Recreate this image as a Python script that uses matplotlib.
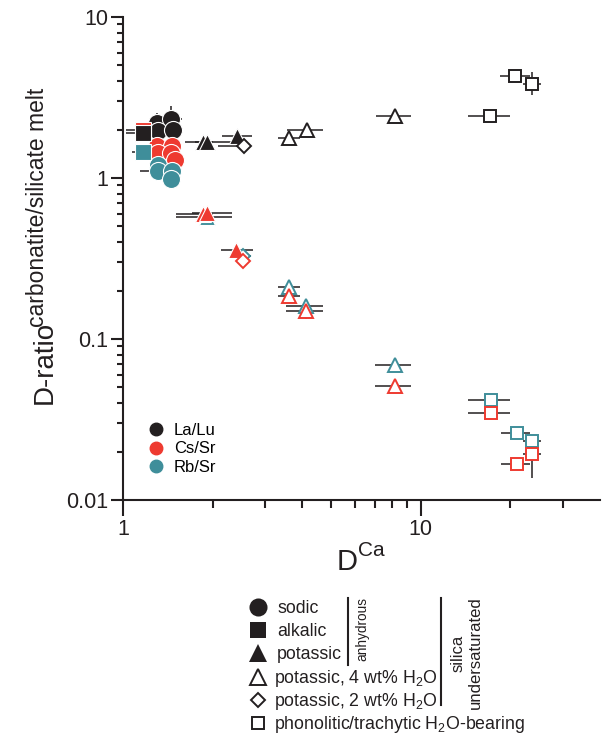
import matplotlib
matplotlib.use('Agg')
import matplotlib.pyplot as plt
from matplotlib.lines import Line2D
from matplotlib.ticker import FixedLocator, NullFormatter, FixedFormatter

# each row: D_Ca, D-ratio, D_Ca low, D_Ca high, D-ratio low, D-ratio high
sodic_lalu = [(1.30, 2.21, 1.30, 1.30, 2.21, 2.55),
              (1.45, 2.31, 1.30, 1.58, 2.31, 2.80),
              (1.31, 1.97, 1.31, 1.31, 1.97, 1.97),
              (1.47, 2.00, 1.33, 1.58, 2.00, 2.00)]
sodic_cssr = [(1.30, 1.59, 1.30, 1.30, 1.59, 1.59),
              (1.46, 1.59, 1.46, 1.46, 1.59, 1.59),
              (1.31, 1.42, 1.31, 1.31, 1.42, 1.42),
              (1.45, 1.42, 1.45, 1.45, 1.42, 1.42),
              (1.49, 1.30, 1.49, 1.58, 1.30, 1.30)]
sodic_rbsr = [(1.31, 1.21, 1.31, 1.31, 1.21, 1.21),
              (1.31, 1.11, 1.14, 1.31, 1.11, 1.11),
              (1.46, 1.11, 1.46, 1.58, 1.11, 1.11),
              (1.45, 0.99, 1.45, 1.45, 0.88, 0.99)]

alkalic_lalu = [(1.17, 1.89, 1.02, 1.17, 1.89, 1.89)]
alkalic_cssr = [(1.17, 1.98, 1.02, 1.17, 1.98, 1.98)]
alkalic_rbsr = [(1.17, 1.45, 1.07, 1.17, 1.45, 1.45)]

potassic_lalu = [(1.86, 1.68, 1.61, 2.00, 1.68, 1.68),
                 (1.91, 1.68, 1.75, 2.32, 1.68, 1.68),
                 (2.41, 1.83, 2.15, 2.71, 1.83, 1.83)]
potassic_cssr = [(1.86, 0.60, 1.51, 2.00, 0.60, 0.60),
                 (1.91, 0.61, 1.70, 2.32, 0.61, 0.61),
                 (2.40, 0.355, 2.13, 2.73, 0.355, 0.355)]
potassic_rbsr = [(1.91, 0.57, 1.51, 2.32, 0.57, 0.57)]

wet4_lalu = [(3.61, 1.76, 3.31, 3.93, 1.76, 1.76),
             (4.14, 2.00, 3.55, 4.69, 2.00, 2.00),
             (8.18, 2.44, 7.07, 9.27, 2.44, 2.44)]
wet4_cssr = [(3.61, 0.184, 3.31, 3.93, 0.184, 0.184),
             (4.11, 0.149, 3.52, 4.69, 0.134, 0.149),
             (8.18, 0.051, 7.00, 9.27, 0.051, 0.051)]
wet4_rbsr = [(3.61, 0.210, 3.31, 3.93, 0.210, 0.210),
             (4.11, 0.160, 3.52, 4.69, 0.160, 0.160),
             (8.18, 0.0688, 7.00, 9.27, 0.0688, 0.0688)]

wet2_lalu = [(2.55, 1.59, 2.08, 2.55, 1.59, 1.59)]
wet2_cssr = [(2.53, 0.303, 2.53, 2.53, 0.303, 0.303)]
wet2_rbsr = [(2.53, 0.326, 2.37, 2.70, 0.326, 0.326)]

phono_lalu = [(17.05, 2.41, 14.4, 19.9, 2.41, 2.41),
              (20.8, 4.32, 18.4, 23.3, 4.32, 4.32),
              (23.6, 3.85, 22.0, 25.4, 3.30, 4.57)]
phono_cssr = [(17.2, 0.0347, 14.4, 19.9, 0.0347, 0.0347),
              (21.0, 0.0167, 18.6, 23.2, 0.0160, 0.0175),
              (23.6, 0.0193, 22.0, 25.4, 0.0137, 0.0193)]
phono_rbsr = [(17.2, 0.0418, 14.4, 19.9, 0.0418, 0.0418),
              (21.0, 0.0260, 18.6, 23.2, 0.0260, 0.0260),
              (23.6, 0.0232, 22.0, 25.4, 0.0232, 0.0232)]

ratio_labels = ['La/Lu', 'Cs/Sr', 'Rb/Sr']
group_labels = ['sodic', 'alkalic', 'potassic',
                r'potassic, 4 wt% H$_\mathregular{2}$O',
                r'potassic, 2 wt% H$_\mathregular{2}$O',
                r'phonolitic/trachytic H$_\mathregular{2}$O-bearing']

ink = '#231f20'
red = '#ee3a30'
teal = '#3f8e9a'

plt.rcParams['font.family'] = ['Liberation Sans', 'DejaVu Sans']
plt.rcParams['mathtext.fontset'] = 'custom'
plt.rcParams['mathtext.rm'] = 'Liberation Sans'

W, H = 604, 735
fig = plt.figure(figsize=(W / 100, H / 100), dpi=100)
ax = fig.add_axes([123 / W, 1 - 500 / H, 477 / W, 483 / H])


def px(x, y):
    return x / W, 1 - y / H


def draw(rows, marker, color, ms, z, filled=True):
    x = [r[0] for r in rows]
    y = [r[1] for r in rows]
    xerr = [[r[0] - r[2] for r in rows], [r[3] - r[0] for r in rows]]
    yerr = [[r[1] - r[4] for r in rows], [r[5] - r[1] for r in rows]]
    ax.errorbar(x, y, xerr=xerr, yerr=yerr, fmt='none', ecolor=ink,
                elinewidth=1.1, capsize=0, zorder=1, clip_on=False)
    if filled:
        ax.plot(x, y, ls='none', marker=marker, ms=ms, mfc=color, mec='white',
                mew=0.8, zorder=z, clip_on=False)
    else:
        ax.plot(x, y, ls='none', marker=marker, ms=ms, mfc='white', mec=color,
                mew=1.4, zorder=z, clip_on=False)


# sodic / alkalic / potassic (anhydrous)
draw(sodic_lalu, 'o', ink, 13, 3)
draw(sodic_cssr, 'o', red, 13, 4)
draw(sodic_rbsr, 'o', teal, 13, 5)
draw(alkalic_cssr, 's', red, 12, 3)
draw(alkalic_lalu, 's', ink, 12, 4)
draw(alkalic_rbsr, 's', teal, 12, 5)
draw(potassic_lalu, '^', ink, 11.5, 3)
draw(potassic_rbsr, '^', teal, 11.5, 4)
draw(potassic_cssr, '^', red, 11.5, 5)

# hydrous runs
draw(wet4_lalu, '^', ink, 10, 3, filled=False)
draw(wet4_rbsr, '^', teal, 10, 4, filled=False)
draw(wet4_cssr, '^', red, 10, 5, filled=False)
draw(wet2_lalu, 'D', ink, 7, 3, filled=False)
draw(wet2_rbsr, 'D', teal, 7, 4, filled=False)
draw(wet2_cssr, 'D', red, 7, 5, filled=False)
draw(phono_lalu, 's', ink, 8.5, 3, filled=False)
draw(phono_rbsr, 's', teal, 8.5, 4, filled=False)
draw(phono_cssr, 's', red, 8.5, 5, filled=False)

ax.set_xscale('log')
ax.set_yscale('log')
ax.set_xlim(1, 40)
ax.set_ylim(0.01, 10)
for side in ['top', 'right']:
    ax.spines[side].set_visible(False)
for side in ['left', 'bottom']:
    ax.spines[side].set_linewidth(1.5)
    ax.spines[side].set_color(ink)

ax.xaxis.set_major_locator(FixedLocator([1, 10]))
ax.xaxis.set_major_formatter(FixedFormatter(['1', '10']))
ax.xaxis.set_minor_locator(FixedLocator([2, 3, 4, 5, 6, 7, 8, 9, 20, 30]))
ax.xaxis.set_minor_formatter(NullFormatter())
ax.yaxis.set_major_locator(FixedLocator([0.01, 0.1, 1, 10]))
ax.yaxis.set_major_formatter(FixedFormatter(['0.01', '0.1', '1', '10']))
ax.yaxis.set_minor_locator(FixedLocator([m * 10.0 ** e for e in (-2, -1, 0)
                                         for m in range(2, 10)]))
ax.yaxis.set_minor_formatter(NullFormatter())
ax.tick_params(axis='x', which='major', length=11.5, width=1.5, pad=2,
               labelsize=15.5, color=ink, labelcolor=ink)
ax.tick_params(axis='x', which='minor', length=6, width=1.5, color=ink)
ax.tick_params(axis='y', which='major', length=8.5, width=1.5, pad=2,
               labelsize=15.5, color=ink, labelcolor=ink)
ax.tick_params(axis='y', which='minor', length=4, width=1.5, color=ink)

# ratio key inside the axes
ratio_handles = [Line2D([], [], ls='none', marker='o', ms=9, mfc=c, mec=c)
                 for c in (ink, red, teal)]
ax.legend(ratio_handles, ratio_labels, loc='upper left',
          bbox_to_anchor=(0.052, 0.16), frameon=False, fontsize=12,
          handlelength=1.0, handletextpad=0.57, labelspacing=0.22,
          borderpad=0, borderaxespad=0)

# axis titles
fig.text(*px(52, 404), 'D-ratio', rotation=90, rotation_mode='anchor',
         ha='left', va='baseline', fontsize=20, color=ink)
fig.text(*px(44, 327), 'carbonatite/silicate melt', rotation=90,
         rotation_mode='anchor', ha='left', va='baseline',
         fontsize=16.5, color=ink)
fig.text(*px(337, 570), 'D', ha='left', va='baseline', fontsize=21, color=ink)
fig.text(*px(358, 556), 'Ca', ha='left', va='baseline', fontsize=15, color=ink)

# marker key below the axes
key_styles = [('o', 13, True), ('s', 12, True), ('^', 13, True),
              ('^', 12, False), ('D', 7.5, False), ('s', 9, False)]
for i, (label, (m, ms, filled)) in enumerate(zip(group_labels, key_styles)):
    yc = 607 + 23.2 * i
    fig.add_artist(Line2D([258 / W], [1 - yc / H], ls='none', marker=m, ms=ms,
                          mfc=ink if filled else 'white', mec=ink,
                          mew=0 if filled else 1.4))
    fig.text(*px(277 if filled else 274, yc + 6), label, ha='left',
             va='baseline', fontsize=12.8, color=ink)

fig.add_artist(Line2D([348 / W] * 2, [1 - 598 / H, 1 - 665 / H], lw=1.5, color=ink))
fig.add_artist(Line2D([441 / W] * 2, [1 - 598 / H, 1 - 705 / H], lw=1.5, color=ink))
fig.text(*px(362, 629), 'anhydrous', rotation=90, ha='center', va='center',
         fontsize=9.8, color=ink)
fig.text(*px(467, 653), 'silica\nundersaturated', rotation=90, ha='center',
         va='center', multialignment='center', fontsize=12, color=ink,
         linespacing=1.2)

fig.savefig('out.png', dpi=100)
